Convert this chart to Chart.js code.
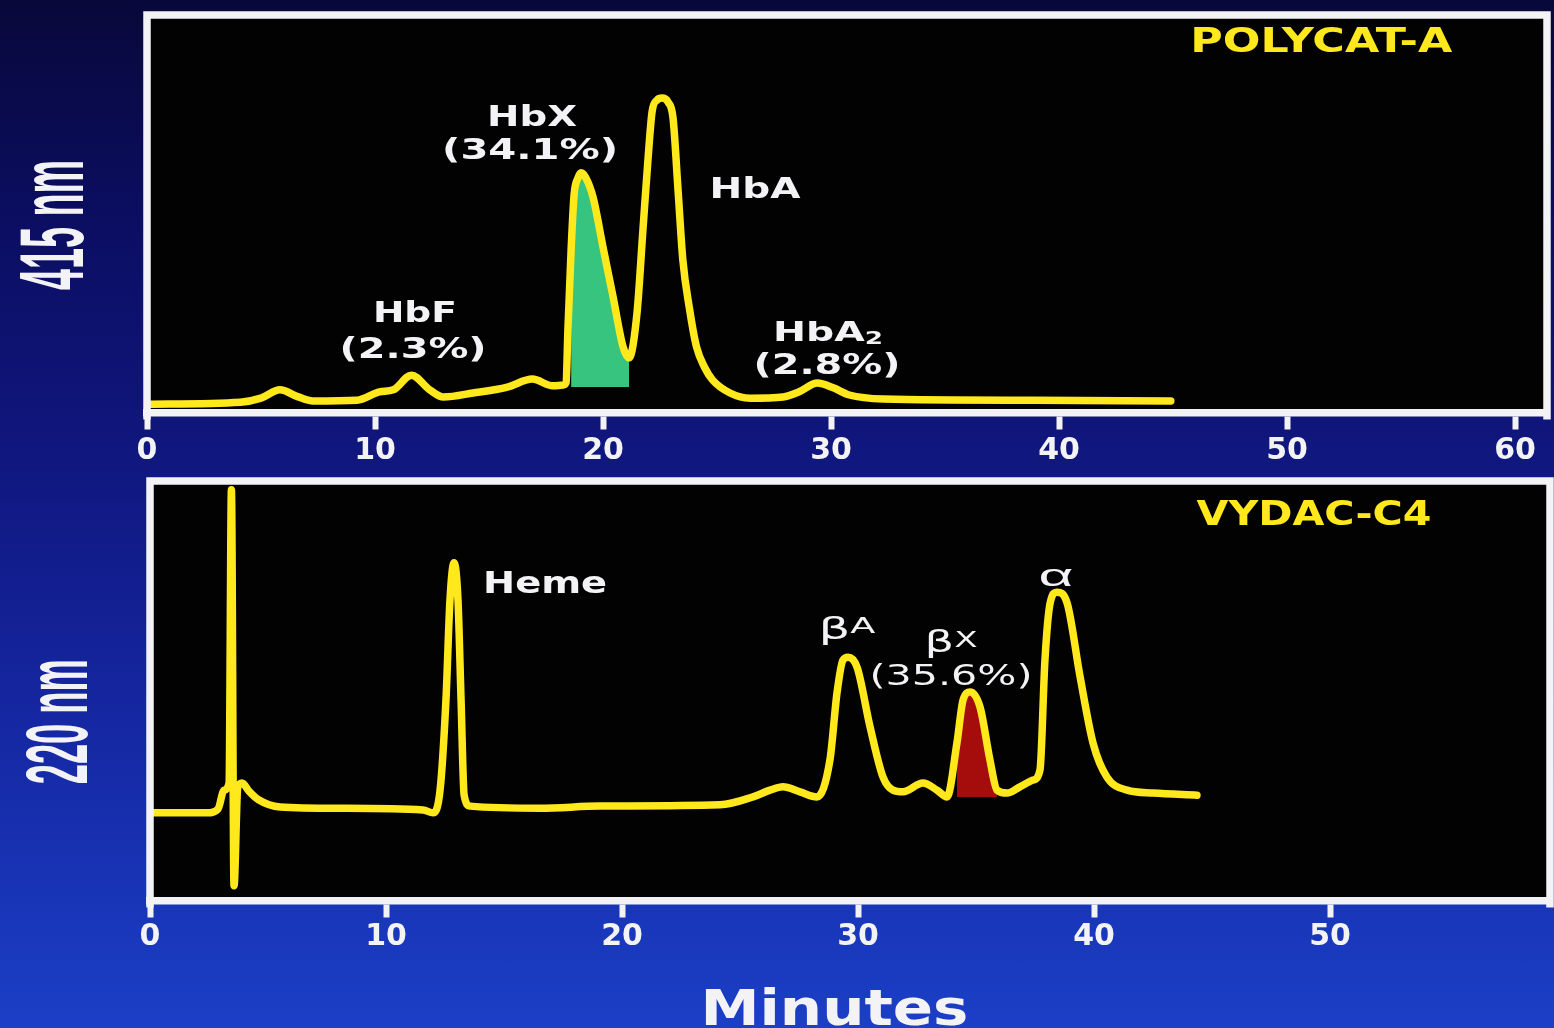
<!DOCTYPE html>
<html><head><meta charset="utf-8">
<script src="https://cdn.jsdelivr.net/npm/chart.js@4.4.1/dist/chart.umd.min.js"></script>
<style>
html,body{margin:0;padding:0;width:1554px;height:1028px;overflow:hidden;
background:linear-gradient(180deg,#08083a 0%,#0b0e62 22%,#10177f 45%,#1527a2 70%,#1b3fc6 100%);}
#c1{position:absolute;left:0;top:0;}
#c2{position:absolute;left:0;top:470px;}
</style></head><body>
<canvas id="c1" width="1554" height="480"></canvas>
<canvas id="c2" width="1554" height="558"></canvas>
<script>
// ---------- DATA ----------
// Top trace: POLYCAT-A, 415 nm (time in minutes, relative absorbance)
const topTimes  = [0, 4.1, 5.0, 5.83, 6.6, 7.28, 9.21, 10.2, 10.8, 11.6, 12.4, 13.0, 14.3, 15.8, 16.9, 17.8, 18.25, 18.38, 18.46, 18.6, 18.73, 18.9, 19.04, 19.25, 19.56, 20.0, 20.44, 20.88, 21.14, 21.49, 21.75, 21.97, 22.15, 22.37, 22.59, 22.85, 23.07, 23.29, 23.5, 23.8, 24.1, 24.47, 24.8, 25.57, 26.45, 27.9, 28.6, 29.4, 30.1, 30.8, 32.3, 38.9, 44.9];
const topSignal = [2.1, 2.6, 3.6, 5.7, 4.0, 2.9, 3.1, 5.2, 5.7, 9.4, 5.7, 3.9, 4.9, 6.4, 8.4, 6.7, 6.9, 7.5, 20.8, 40.9, 54.7, 59.0, 60.3, 59.0, 54.2, 41.6, 29.1, 16.5, 13.7, 25.0, 45.9, 63.5, 75.6, 78.6, 79.1, 78.1, 74.1, 56.0, 38.4, 25.8, 16.5, 11.2, 8.2, 4.9, 3.6, 3.9, 5.2, 7.4, 6.2, 4.4, 3.4, 3.1, 2.9];
// Bottom trace: VYDAC-C4, 220 nm
const bottomTimes  = [0, 2.42, 2.88, 3.14, 3.35, 3.45, 3.56, 3.72, 3.9, 4.2, 4.6, 5.51, 8.05, 11.57, 11.99, 12.29, 12.54, 12.71, 12.88, 13.05, 13.18, 13.31, 13.56, 16.53, 19.07, 24.15, 25.55, 26.27, 26.82, 27.54, 28.26, 28.81, 29.11, 29.36, 29.58, 29.96, 30.51, 31.06, 31.48, 31.91, 32.75, 33.35, 33.77, 34.19, 34.45, 34.75, 35.17, 35.59, 35.89, 36.31, 36.86, 37.42, 37.71, 37.92, 38.14, 38.43, 38.86, 39.41, 39.96, 40.55, 41.4, 42.5, 44.36];
const bottomSignal = [20.9, 20.9, 21.8, 26.3, 28.0, 97.9, 3.5, 27.0, 28.0, 26.0, 24.0, 22.3, 22.0, 21.6, 20.9, 26.3, 47.8, 71.6, 80.5, 71.6, 47.8, 25.1, 22.5, 22.0, 22.5, 22.8, 24.7, 26.3, 27.1, 25.9, 24.7, 33.5, 49.5, 57.3, 58.0, 55.6, 41.4, 29.4, 26.3, 25.9, 28.0, 26.3, 24.7, 37.5, 47.8, 49.7, 46.1, 33.5, 26.3, 25.6, 27.1, 28.7, 31.1, 57.3, 70.9, 73.5, 70.9, 53.3, 37.5, 29.4, 26.3, 25.6, 25.1];
// Tick labels (minutes)
const topTicks = [0, 10, 20, 30, 40, 50, 60];
const bottomTicks = [0, 10, 20, 30, 40, 50];
// Shaded (integrated) peaks: [start, end] minutes and baseline level
const hbxWindow = [18.5, 21.14];
const hbxBase = 6.4;
const bxWindow = [34.19, 35.89];
const bxBase = 24.7;
// ---------- END DATA ----------

const YELLOW = '#ffe81c';
const WHITE = '#f3f3f6';

function toPoints(ts, vs) { return ts.map((t, i) => ({x: t, y: vs[i]})); }
function windowPoints(ts, vs, w) {
  return toPoints(ts, vs).filter(p => p.x >= w[0] - 1e-9 && p.x <= w[1] + 1e-9);
}

function fontStr(weight, size, family) { return weight + ' ' + size + 'px ' + family; }

function drawFit(ctx, it, cx, cy) {
  const fam = it.family || '"DejaVu Sans", sans-serif';
  const weight = it.weight || 'bold';
  const size = it.size;
  ctx.save();
  ctx.translate(cx, cy);
  if (it.rotate) ctx.rotate(-Math.PI / 2);
  ctx.fillStyle = it.color || WHITE;
  ctx.textBaseline = 'alphabetic';
  ctx.textAlign = 'left';
  const f1 = fontStr(weight, size, fam);
  ctx.font = f1;
  const m1 = ctx.measureText(it.text).width;
  let m2 = 0, f2 = null, s2 = 0;
  if (it.suffix) {
    s2 = Math.round(size * (it.sub ? 0.66 : 0.72));
    f2 = fontStr(weight, s2, fam);
    ctx.font = f2;
    m2 = ctx.measureText(it.suffix).width;
  }
  const total = m1 + m2;
  ctx.scale(it.w / total, 1);
  const base = 0.36 * size;
  ctx.font = f1;
  ctx.fillText(it.text, -total / 2, base);
  if (it.suffix) {
    ctx.font = f2;
    const sy = it.sub ? base + 0.12 * size : base - 0.73 * (size - s2);
    ctx.fillText(it.suffix, -total / 2 + m1, sy);
  }
  ctx.restore();
}

const panelPlugin = {
  id: 'panel',
  beforeDraw(chart) {
    const {ctx, chartArea: a} = chart;
    ctx.save();
    ctx.fillStyle = '#020203';
    ctx.fillRect(a.left, a.top, a.right - a.left, a.bottom - a.top);
    ctx.restore();
  },
  afterDraw(chart, args, opts) {
    const {ctx, chartArea: a, scales: {x, y}} = chart;
    ctx.save();
    ctx.strokeStyle = WHITE;
    ctx.lineWidth = 7.5;
    ctx.lineJoin = 'miter';
    ctx.beginPath();
    ctx.moveTo(a.left, a.bottom + 7);
    ctx.lineTo(a.left, a.top);
    ctx.lineTo(a.right, a.top);
    ctx.lineTo(a.right, a.bottom + 7);
    ctx.stroke();
    ctx.restore();
    for (const it of opts.items) {
      const cx = it.t !== undefined ? x.getPixelForValue(it.t) : a.left + it.dx;
      const cy = it.v !== undefined ? y.getPixelForValue(it.v) : a.bottom + it.dy;
      drawFit(ctx, it, cx, cy);
    }
  }
};

function makeChart(id, cfg) {
  return new Chart(document.getElementById(id), {
    type: 'line',
    data: {
      datasets: [
        { data: cfg.points, borderColor: YELLOW, borderWidth: 7.5, pointRadius: 0,
          cubicInterpolationMode: 'monotone', fill: false,
          borderJoinStyle: 'round', borderCapStyle: 'round' },
        { data: cfg.fillPoints, borderWidth: 0, borderColor: 'rgba(0,0,0,0)', pointRadius: 0,
          cubicInterpolationMode: 'monotone', fill: {value: cfg.fillBase},
          backgroundColor: cfg.fillColor }
      ]
    },
    options: {
      responsive: false, animation: false, devicePixelRatio: 1,
      layout: { padding: cfg.padding },
      plugins: { legend: {display: false}, tooltip: {enabled: false}, panel: {items: cfg.items} },
      scales: {
        x: {
          type: 'linear', min: 0, max: cfg.xMax,
          afterBuildTicks: s => { s.ticks = cfg.ticks.map(v => ({value: v})); },
          afterFit: s => { s.height = cfg.axisHeight; },
          grid: { display: true, drawOnChartArea: false, drawTicks: true, tickLength: 17,
                  tickWidth: 6, tickColor: WHITE },
          border: { display: true, color: WHITE, width: 7.5 },
          ticks: { color: WHITE, font: {family: 'DejaVu Sans', weight: 'bold', size: 30},
                   padding: cfg.tickPad, maxRotation: 0, autoSkip: false }
        },
        y: { display: false, min: 0, max: 100 }
      }
    },
    plugins: [panelPlugin]
  });
}

const NARROW = '"Liberation Sans", Arial, sans-serif';

makeChart('c1', {
  points: toPoints(topTimes, topSignal),
  fillPoints: windowPoints(topTimes, topSignal, hbxWindow),
  fillBase: hbxBase,
  fillColor: '#36c47f',
  ticks: topTicks,
  tickPad: 4,
  xMax: 61.4,
  padding: {left: 147, right: 7, top: 15, bottom: 0},
  axisHeight: 67.5,
  items: [
    {text: 'HbF', t: 11.75, v: 25.3, size: 28, w: 84},
    {text: '(2.3%)', t: 11.67, v: 16.2, size: 28, w: 147},
    {text: 'HbX', t: 16.89, v: 74.8, size: 29, w: 90},
    {text: '(34.1%)', t: 16.8, v: 66.5, size: 29, w: 176},
    {text: 'HbA', t: 26.67, v: 56.5, size: 28, w: 91},
    {text: 'HbA', suffix: '2', sub: true, t: 29.87, v: 20.5, size: 27, w: 110},
    {text: '(2.8%)', t: 29.82, v: 12.2, size: 28, w: 147},
    {text: 'POLYCAT-A', t: 51.5, v: 93.7, size: 33, w: 262, color: YELLOW},
    {text: '415 nm', dx: -96, v: 47.2, size: 90, family: NARROW, w: 130, rotate: true}
  ]
});

makeChart('c2', {
  points: toPoints(bottomTimes, bottomSignal),
  fillPoints: windowPoints(bottomTimes, bottomSignal, bxWindow),
  fillBase: bxBase,
  fillColor: '#a50c0c',
  ticks: bottomTicks,
  tickPad: 2,
  xMax: 59.32,
  padding: {left: 150, right: 4, top: 11, bottom: 0},
  axisHeight: 127.5,
  items: [
    {text: 'Heme', t: 16.74, v: 75.9, size: 31, w: 124},
    {text: '\u03b2', suffix: 'A', t: 29.53, v: 65.0, size: 30, weight: 'normal', w: 57},
    {text: '\u03b2', suffix: 'X', t: 33.94, v: 61.7, size: 30, weight: 'normal', w: 53},
    {text: '(35.6%)', t: 33.94, v: 53.8, size: 28, weight: 'normal', w: 163},
    {text: '\u03b1', t: 38.39, v: 77.6, size: 32, weight: 'normal', family: NARROW, w: 35},
    {text: 'VYDAC-C4', t: 49.32, v: 92.4, size: 34, w: 235, color: YELLOW},
    {text: '220 nm', dx: -95, v: 42.6, size: 88, family: NARROW, w: 125, rotate: true},
    {text: 'Minutes', t: 29.0, dy: 106, size: 50, w: 268}
  ]
});
</script>
</body></html>
